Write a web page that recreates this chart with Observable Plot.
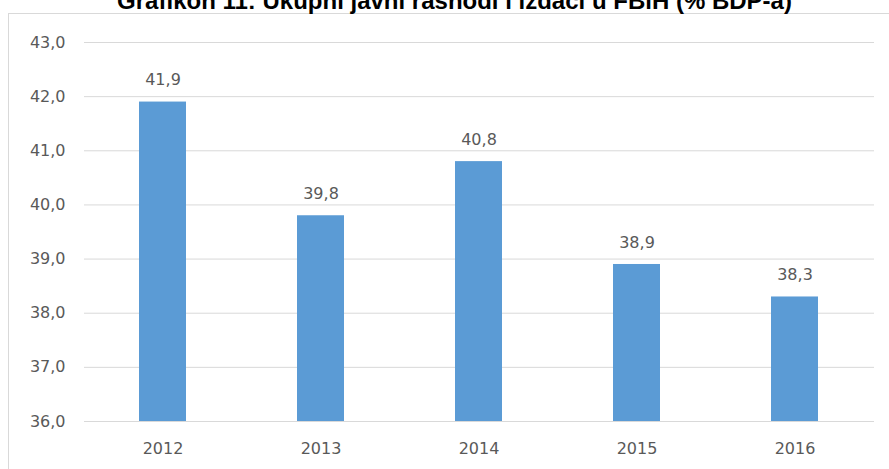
<!DOCTYPE html>
<html>
<head>
<meta charset="utf-8">
<script src="https://cdn.jsdelivr.net/npm/d3@7"></script>
<script src="https://cdn.jsdelivr.net/npm/@observablehq/plot@0.6"></script>
<style>
  html, body { margin: 0; padding: 0; background: #fff; overflow: hidden; }
  #wrap { position: relative; width: 889px; height: 469px; overflow: hidden; }
  #frame { position: absolute; left: 8px; top: 13px; width: 1000px; height: 1000px;
           border-top: 1px solid #d9d9d9; border-left: 1px solid #d9d9d9; box-sizing: border-box; }
  #title { position: absolute; left: 20px; width: 869px; top: -11px; text-align: center;
           font: bold 24px "Liberation Sans", Arial, sans-serif; line-height: 24px; color: #000; white-space: nowrap; }
  #chart { position: absolute; left: 0; top: 0; }
</style>
</head>
<body>
<div id="wrap">
  <div id="frame"></div>
  <div id="title">Grafikon 11: Ukupni javni rashodi i izdaci u FBiH (% BDP-a)</div>
  <div id="chart"></div>
</div>
<script>
const years = ["2012", "2013", "2014", "2015", "2016"];
const values = [41.9, 39.8, 40.8, 38.9, 38.3];
const yTicks = [36, 37, 38, 39, 40, 41, 42, 43];

const data = years.map((year, i) => ({year, value: values[i]}));
const fmt = d => d.toFixed(1).replace(".", ",");

const chart = Plot.plot({
  width: 889,
  height: 469,
  marginLeft: 84,
  marginRight: 15,
  marginTop: 42,
  marginBottom: 48,
  style: {fontFamily: "'DejaVu Sans', sans-serif", fontSize: "16px", color: "#595959", background: "transparent", overflow: "visible"},
  x: {domain: years, paddingInner: 0.7, paddingOuter: 0.35, label: null},
  y: {domain: [36, 43], label: null},
  marks: [
    Plot.ruleY(yTicks, {stroke: "#d9d9d9", strokeWidth: 1}),
    Plot.barY(data, {x: "year", y1: 36, y2: "value", fill: "#5b9bd5"}),
    Plot.text(data, {x: "year", y: "value", text: d => fmt(d.value), dy: -22, fill: "#595959", fontSize: 16}),
    Plot.axisY(yTicks, {tickSize: 0, tickPadding: 19, tickFormat: fmt, label: null}),
    Plot.axisX({tickSize: 0, tickPadding: 21, label: null})
  ]
});
document.getElementById("chart").appendChild(chart);
</script>
</body>
</html>
